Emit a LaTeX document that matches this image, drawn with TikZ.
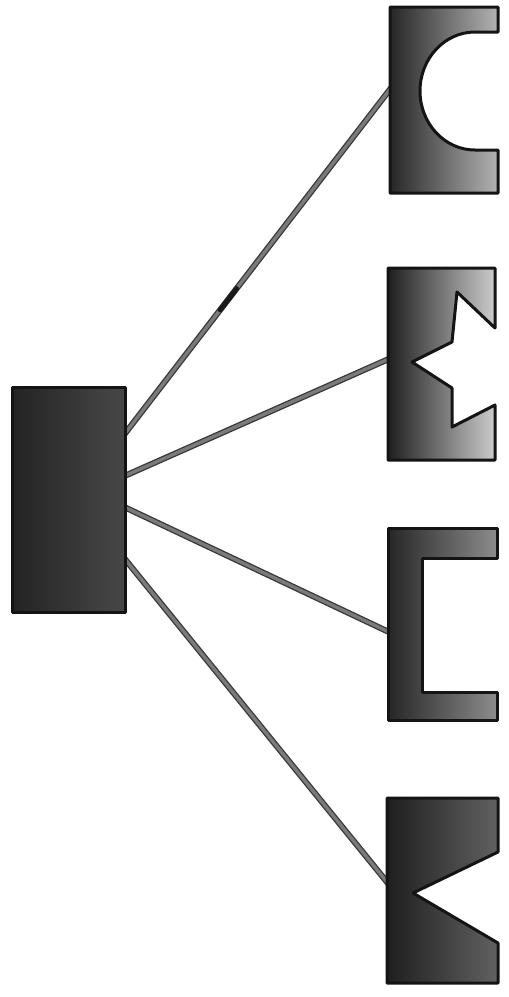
\documentclass[tikz,border=0pt]{standalone}
\usetikzlibrary{calc}
\begin{document}
\begin{tikzpicture}[x=1pt,y=-1pt,
  outl/.style={draw=black!92, line width=3pt, line join=round},
  wireout/.style={draw=black!78, line width=6pt, line cap=round},
  wirein/.style={draw=black!52, line width=3.4pt, line cap=round}]
\useasboundingbox (0,0) rectangle (509,997);
\fill[white] (0,0) rectangle (509,997);
% attachment points
\coordinate (s1) at (120,440);
\coordinate (s2) at (120,478);
\coordinate (s3) at (120,505);
\coordinate (s4) at (120,553);
\coordinate (t1) at (391,88);
\coordinate (t2) at (391,358);
\coordinate (t3) at (391,633);
\coordinate (t4) at (391,887);
% connectors
\foreach \i in {1,2,3,4} {
  \draw[wireout] (s\i) -- (t\i);
  \draw[wirein] (s\i) -- (t\i);
}
\draw[line width=5pt, black!90, line cap=round] ($(s1)!0.37!(t1)$) -- ($(s1)!0.43!(t1)$);
% source block
\node[outl, shade, left color=black!86, right color=black!72, minimum width=113pt, minimum height=225pt, anchor=north west, inner sep=0pt] (src) at (11,386) {};
% shape 1: round notch
\shade[outl, left color=black!85, right color=black!30]
  (390,7) -- (498,7) -- (498,32) -- (475,32)
  arc[start angle=270, end angle=90, x radius=55, y radius=59]
  -- (498,150) -- (498,193) -- (390,193) -- cycle;
% shape 2: star notch
\shade[outl, left color=black!88, right color=black!20]
  (388,268) -- (495,268) -- (495,328) -- (457,292) -- (452,342) -- (412,362)
  -- (452,388) -- (452,427) -- (495,405) -- (495,460) -- (388,460) -- cycle;
% shape 3: square notch
\shade[outl, left color=black!85, right color=black!45]
  (388,528) -- (497,528) -- (497,558) -- (422,558) -- (422,692) -- (497,692)
  -- (497,720) -- (388,720) -- cycle;
% shape 4: triangular notch
\shade[outl, left color=black!88, right color=black!62]
  (387,798) -- (498,798) -- (498,852) -- (413,893) -- (498,943) -- (498,983)
  -- (387,983) -- cycle;
\end{tikzpicture}
\end{document}
